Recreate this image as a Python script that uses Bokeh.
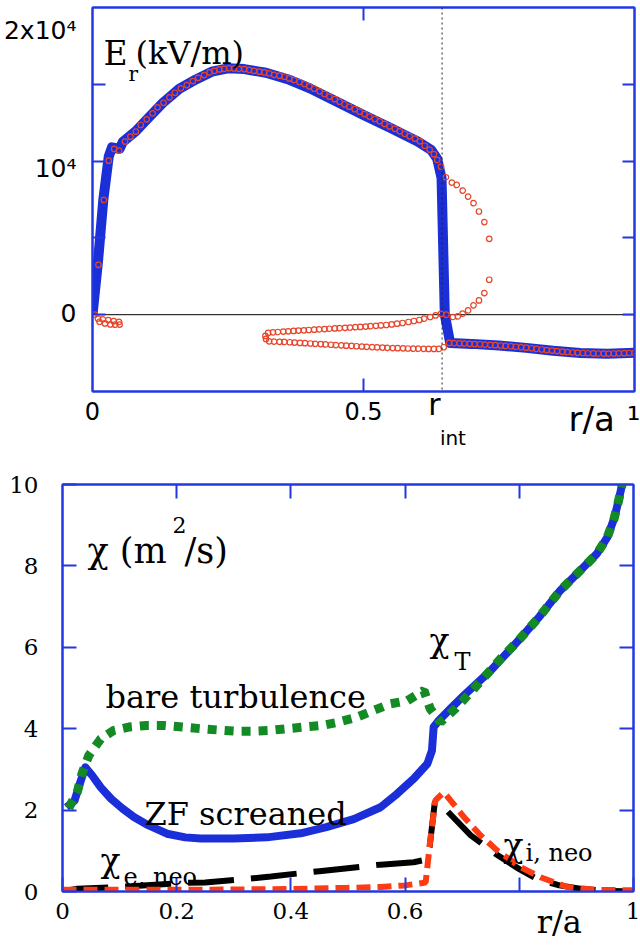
from bokeh.plotting import figure
from bokeh.models import Span, Label, LinearAxis, FixedTicker
from bokeh.embed import file_html
from bokeh.resources import INLINE

# ---------------- top panel data: E_r (kV/m) vs r/a ----------------
er_r = [0.0, 0.010, 0.020, 0.030, 0.036, 0.050, 0.056, 0.080, 0.100, 0.130,
        0.160, 0.190, 0.220, 0.250, 0.280, 0.320, 0.360, 0.400, 0.450, 0.500,
        0.550, 0.600, 0.625, 0.636, 0.644, 0.650, 0.660, 0.700, 0.750, 0.800,
        0.850, 0.900, 0.950, 1.000]
er_E = [0, 3400, 7500, 10300, 10900, 10800, 11250, 11950, 12700, 13800,
        14700, 15300, 15820, 16040, 15990, 15750, 15330, 14750, 13880, 13000,
        12150, 11280, 10720, 10150, 8900, 0, -1850, -1900, -2010, -2160,
        -2350, -2490, -2535, -2480]

red_a_r = [0.004, 0.010, 0.019, 0.029, 0.039, 0.049, 0.050, 0.042, 0.033, 0.023, 0.013]
red_a_E = [0, -250, -300, -350, -420, -470, -640, -650, -630, -570, -460]

red_b_r = [0.011, 0.021, 0.030, 0.040, 0.049, 0.060, 0.070, 0.080, 0.089, 0.100,
           0.111, 0.120, 0.131, 0.142, 0.152, 0.163, 0.174, 0.185, 0.195, 0.206,
           0.216, 0.225, 0.234, 0.243, 0.252, 0.261, 0.270, 0.280, 0.289, 0.298,
           0.308, 0.317, 0.326, 0.335, 0.345, 0.354, 0.363, 0.372, 0.382, 0.391,
           0.400, 0.409, 0.419, 0.428, 0.437, 0.447, 0.456, 0.465, 0.474, 0.484,
           0.493, 0.502, 0.511, 0.521, 0.530, 0.539, 0.548, 0.558, 0.567, 0.576,
           0.585, 0.595, 0.604, 0.613, 0.622, 0.630, 0.636, 0.643]
red_b_E = [3250, 7470, 10030, 10790, 10680, 11270, 11590, 11920, 12350, 12720,
           13110, 13500, 13800, 14150, 14450, 14740, 14950, 15210, 15420, 15600,
           15770, 15880, 15970, 16010, 16050, 16030, 16010, 15990, 15940, 15880,
           15820, 15770, 15710, 15620, 15560, 15490, 15380, 15280, 15150, 15020,
           14870, 14710, 14540, 14370, 14200, 14030, 13870, 13700, 13540, 13380,
           13220, 13060, 12900, 12740, 12590, 12420, 12260, 12100, 11940, 11780,
           11620, 11460, 11290, 11000, 10750, 10450, 10080, 9640]

red_c_r = [0.652, 0.663, 0.672, 0.683, 0.693, 0.703, 0.713, 0.723, 0.732,
           0.732, 0.723, 0.713, 0.703, 0.693, 0.683, 0.674, 0.665, 0.653]
red_c_E = [8950, 8600, 8450, 8080, 7690, 7260, 6720, 6030, 4940,
           2275, 1410, 930, 610, 280, 65, -110, -150, 0]

red_d_r = [0.643, 0.633, 0.623, 0.612, 0.603, 0.593, 0.583, 0.572, 0.562, 0.552,
           0.542, 0.532, 0.523, 0.513, 0.504, 0.494, 0.485, 0.475, 0.466, 0.456,
           0.447, 0.437, 0.428, 0.418, 0.409, 0.399, 0.390, 0.380, 0.371, 0.361,
           0.352, 0.342, 0.333, 0.324, 0.319, 0.320]
red_d_E = [60, -45, -150, -260, -345, -410, -475, -540, -585, -630,
           -670, -700, -725, -750, -770, -795, -815, -835, -855, -875,
           -895, -915, -935, -955, -975, -995, -1015, -1035, -1055, -1080,
           -1100, -1125, -1150, -1185, -1380, -1580]

red_e_r = [0.326, 0.335, 0.345, 0.354, 0.364, 0.373, 0.383, 0.392, 0.402, 0.411,
           0.421, 0.430, 0.440, 0.449, 0.459, 0.468, 0.478, 0.487, 0.497, 0.506,
           0.516, 0.525, 0.535, 0.544, 0.554, 0.563, 0.573, 0.582, 0.592, 0.601,
           0.611, 0.620, 0.630, 0.639, 0.648]
red_e_E = [-1735, -1750, -1765, -1775, -1795, -1815, -1835, -1855, -1875, -1895,
           -1915, -1935, -1955, -1975, -1995, -2015, -2035, -2055, -2075, -2090,
           -2110, -2125, -2140, -2155, -2170, -2180, -2190, -2200, -2210, -2215,
           -2220, -2225, -2230, -2230, -2120]

red_f_r = [0.658, 0.667, 0.677, 0.686, 0.696, 0.705, 0.715, 0.724, 0.734, 0.743,
           0.753, 0.762, 0.772, 0.781, 0.791, 0.800, 0.810, 0.819, 0.829, 0.838,
           0.848, 0.857, 0.867, 0.876, 0.886, 0.895, 0.905, 0.914, 0.924, 0.933,
           0.943, 0.952, 0.962, 0.971, 0.981, 0.990, 1.000]
red_f_E = [-1840, -1850, -1865, -1880, -1895, -1910, -1925, -1945, -1965, -1985,
           -2005, -2030, -2055, -2085, -2115, -2150, -2185, -2225, -2265, -2300,
           -2335, -2370, -2405, -2435, -2460, -2480, -2495, -2510, -2520, -2525,
           -2530, -2530, -2525, -2515, -2505, -2495, -2480]

r_int = 0.645

# tick marks and tick-label texts of the top panel
top_y_ticks = [0, 5000, 10000, 15000]
top_x_ticks = [0.5]
top_y_label_pos = [65, 9545, 18506]
top_y_labels = {65: "0", 9545: "10⁴", 18506: "2x10⁴"}
top_x_label_pos = [0, 0.5]
top_x_labels = {0: "0", 0.5: "0.5"}

# ---------------- bottom panel data: chi (m^2/s) vs r/a ----------------
chi_t_r = [0.007, 0.021, 0.032, 0.040, 0.052, 0.067, 0.085, 0.105, 0.125, 0.150,
           0.183, 0.215, 0.242, 0.300, 0.358, 0.417, 0.462, 0.510, 0.557, 0.586,
           0.615, 0.639, 0.647, 0.650, 0.659, 0.680, 0.703, 0.750, 0.796, 0.835,
           0.872, 0.907, 0.936, 0.954, 0.966, 0.974, 0.980]
chi_t = [2.07, 2.23, 2.72, 3.05, 2.85, 2.56, 2.28, 2.04, 1.83, 1.63,
         1.42, 1.33, 1.30, 1.30, 1.33, 1.43, 1.58, 1.78, 2.07, 2.40,
         2.77, 3.14, 3.46, 4.04, 4.20, 4.50, 4.82, 5.43, 6.13, 6.75,
         7.40, 7.89, 8.30, 8.70, 9.16, 9.61, 10.0]

bare_r = [0.011, 0.026, 0.034, 0.046, 0.067, 0.090, 0.116, 0.148, 0.177, 0.210,
          0.242, 0.271, 0.303, 0.335, 0.364, 0.393, 0.423, 0.455, 0.483, 0.515,
          0.547, 0.574, 0.604, 0.633, 0.644, 0.662, 0.688, 0.715, 0.744, 0.770,
          0.796, 0.835, 0.872, 0.907, 0.936, 0.954, 0.966, 0.974, 0.980]
bare = [2.05, 2.45, 2.89, 3.34, 3.75, 3.96, 4.04, 4.08, 4.08, 4.04,
        4.00, 3.97, 3.94, 3.94, 3.96, 4.00, 4.04, 4.08, 4.16, 4.28,
        4.46, 4.61, 4.69, 4.94, 4.49, 4.16, 4.49, 4.90, 5.35, 5.76,
        6.13, 6.75, 7.40, 7.89, 8.30, 8.70, 9.16, 9.61, 10.0]

neo_e_r = [0.0, 0.026, 0.080, 0.120, 0.210, 0.250, 0.330, 0.365, 0.450, 0.557,
           0.615, 0.636, 0.643, 0.652, 0.657, 0.715, 0.758, 0.800, 0.831, 0.870,
           0.907, 0.950, 1.0]
neo_e = [0.0, 0.07, 0.10, 0.13, 0.21, 0.22, 0.32, 0.37, 0.50, 0.66,
         0.72, 0.78, 1.10, 2.19, 2.22, 1.38, 0.93, 0.55, 0.31, 0.15,
         0.07, 0.02, 0.0]

neo_i_r = [0.0, 0.2, 0.4, 0.5, 0.557, 0.600, 0.636, 0.644, 0.653, 0.668,
           0.703, 0.732, 0.761, 0.802, 0.837, 0.884, 0.936, 1.0]
neo_i = [0.04, 0.04, 0.06, 0.09, 0.11, 0.15, 0.22, 1.25, 2.24, 2.44,
         1.83, 1.38, 1.01, 0.60, 0.35, 0.11, 0.04, 0.03]

bot_x_ticks = [0, 0.2, 0.4, 0.6, 0.8, 1]
bot_x_labels = {0: "0", 0.2: "0.2", 0.4: "0.4", 0.6: "0.6", 0.8: "", 1: "1"}
bot_y_ticks = [0, 2, 4, 6, 8, 10]
bot_y_labels = {0: "0", 2: "2", 4: "4", 6: "6", 8: "8", 10: "10"}

# ---------------- styling ----------------
BLUE = "#1b2fd9"
FRAME = "#2238e2"
RED_O = "#e8452a"
GREEN = "#148a24"
RED_D = "#ff3b14"
SANS = "DejaVu Sans"
SERIF = "DejaVu Serif"


def tick_axis(ax, ticks, tick_len, overrides=None, font=None, size=None, standoff=0):
    ax.ticker = FixedTicker(ticks=ticks, minor_ticks=[])
    ax.axis_line_color = FRAME
    ax.axis_line_width = 2
    ax.major_tick_line_color = FRAME
    ax.major_tick_line_width = 2
    ax.major_tick_in = tick_len
    ax.major_tick_out = 0
    ax.minor_tick_line_color = None
    ax.major_label_standoff = standoff
    if overrides is None:
        ax.major_label_text_font_size = "0px"
        ax.major_label_text_color = None
    else:
        ax.major_label_overrides = overrides
        ax.major_label_text_font = font
        ax.major_label_text_font_size = size
        ax.major_label_text_color = "black"


def text_axis(p, side, ticks, overrides, font, size, standoff):
    ax = LinearAxis()
    ax.ticker = FixedTicker(ticks=ticks, minor_ticks=[])
    ax.axis_line_color = None
    ax.major_tick_line_color = None
    ax.minor_tick_line_color = None
    ax.major_tick_in = 0
    ax.major_tick_out = 0
    ax.major_label_overrides = overrides
    ax.major_label_text_font = font
    ax.major_label_text_font_size = size
    ax.major_label_text_color = "black"
    ax.major_label_standoff = standoff
    p.add_layout(ax, side)


def lab(p, x, y, text, font, size, align="left"):
    p.add_layout(Label(x=x, y=y, text=text, text_font=font, text_font_size=size,
                       text_baseline="alphabetic", text_align=align,
                       text_color="black"))


# ---------------- top figure ----------------
p1 = figure(width=640, height=452, x_range=(0, 1), y_range=(-5000, 20000),
            output_backend="svg", toolbar_location=None,
            min_border_left=92, min_border_right=6, min_border_top=7,
            min_border_bottom=60, background_fill_color="white",
            border_fill_color="white")
p1.grid.visible = False
p1.outline_line_color = FRAME
p1.outline_line_width = 2

tick_axis(p1.xaxis[0], top_x_ticks, 13)
tick_axis(p1.yaxis[0], top_y_ticks, 13)
ax = LinearAxis()
tick_axis(ax, top_x_ticks, 13)
p1.add_layout(ax, "above")
ax = LinearAxis()
tick_axis(ax, top_y_ticks, 12)
p1.add_layout(ax, "right")

text_axis(p1, "left", top_y_label_pos, top_y_labels, SANS, "25px", 16)
text_axis(p1, "below", top_x_label_pos, top_x_labels, SANS, "24px", 10)
text_axis(p1, "below", [0.631], {0.631: "r"}, SANS, "30px", -36)
text_axis(p1, "below", [0.921, 1.0], {0.921: "r/a", 1.0: "¹"}, SANS, "34px", -26)
text_axis(p1, "below", [0.665], {0.665: "int"}, SANS, "20px", -16)

p1.add_layout(Span(location=0, dimension="width", line_color="black",
                   line_width=1, level="underlay"))
p1.line(er_r, er_E, line_width=10, line_color=BLUE, line_join="round")
for rr, ee in [(red_a_r, red_a_E), (red_b_r, red_b_E), (red_c_r, red_c_E),
               (red_d_r, red_d_E), (red_e_r, red_e_E), (red_f_r, red_f_E)]:
    p1.scatter(rr, ee, marker="circle", size=5.5, fill_color=None,
               line_color=RED_O, line_width=1.2)
p1.add_layout(Span(location=r_int, dimension="height", line_color="#222222",
                   line_width=1, line_dash="2 3"))

lab(p1, 0.0203, 17013, "E", SERIF, "33px")
lab(p1, 0.0664, 15649, "r", SERIF, "20px")
lab(p1, 0.0793, 17013, "(kV/m)", SERIF, "32px")

# ---------------- bottom figure ----------------
p2 = figure(width=640, height=500, x_range=(0, 1), y_range=(0, 10),
            output_backend="svg", toolbar_location=None,
            min_border_left=62, min_border_right=7, min_border_top=32,
            min_border_bottom=61, background_fill_color="white",
            border_fill_color="white")
p2.grid.visible = False
p2.outline_line_color = FRAME
p2.outline_line_width = 2

tick_axis(p2.xaxis[0], bot_x_ticks, 14, bot_x_labels, SERIF, "23px", 11)
tick_axis(p2.yaxis[0], bot_y_ticks, 14, bot_y_labels, SERIF, "23px", 24)
ax = LinearAxis()
tick_axis(ax, [0.2, 0.4, 0.6, 0.8], 14)
p2.add_layout(ax, "above")
ax = LinearAxis()
tick_axis(ax, [2, 4, 6, 8], 14)
p2.add_layout(ax, "right")
text_axis(p2, "below", [0.870], {0.870: "r/a"}, SERIF, "32px", -19)

p2.line(chi_t_r, chi_t, line_width=8, line_color=BLUE, line_join="round")
p2.line(bare_r, bare, line_width=9, line_color=GREEN, line_dash="9 8",
        line_cap="butt")
p2.line(neo_e_r, neo_e, line_width=6, line_color="black", line_dash="46 17",
        line_cap="butt")
p2.line(neo_i_r, neo_i, line_width=6, line_color=RED_D, line_dash="14 7",
        line_cap="butt")

lab(p2, 0.0438, 8.378, "χ (m", SERIF, "35px")
lab(p2, 0.1926, 8.993, "2", SERIF, "22px")
lab(p2, 0.2137, 8.378, "/s)", SERIF, "35px")
lab(p2, 0.6427, 6.167, "χ", SERIF, "33px")
lab(p2, 0.6865, 5.627, "T", SERIF, "24px")
lab(p2, 0.0753, 4.767, "bare turbulence", SERIF, "32px")
lab(p2, 0.1436, 1.916, "ZF screaned", SERIF, "32px")
lab(p2, 0.0665, 0.762, "χ", SERIF, "33px")
lab(p2, 0.1068, 0.344, "e, neo", SERIF, "24px")
lab(p2, 0.7723, 1.130, "χ", SERIF, "33px")
lab(p2, 0.8109, 0.958, "i, neo", SERIF, "24px")

open("out.html", "w").write(file_html([p1, p2], INLINE))
